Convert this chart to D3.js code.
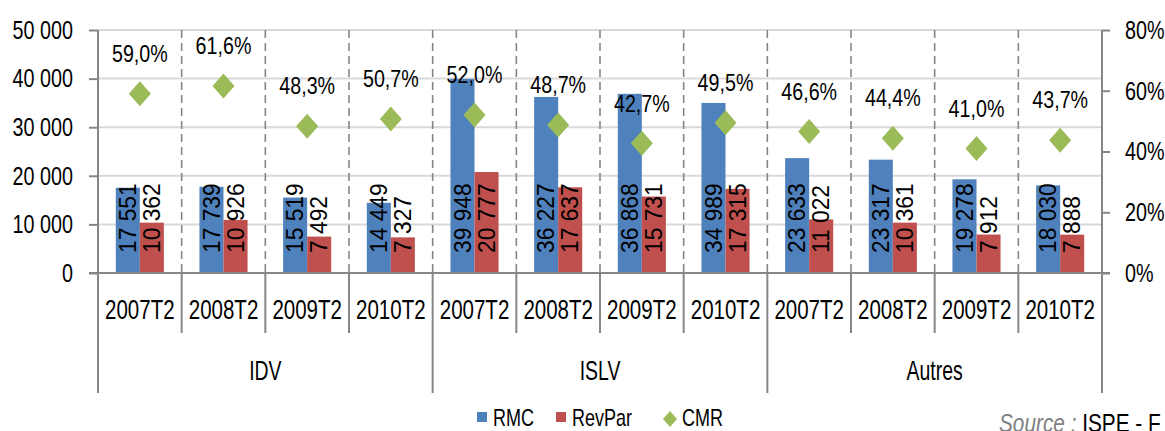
<!DOCTYPE html>
<html>
<head>
<meta charset="utf-8">
<script src="https://cdn.jsdelivr.net/npm/d3@7"></script>
<style>
    body { margin: 0; background: #fff; }
    svg text { font-family: "Liberation Sans", Arial, sans-serif; fill: #000; }
</style>
</head>
<body>
<div id="svg"></div>
<script>
// data
const groups = ["IDV", "ISLV", "Autres"];
const periods = ["2007T2", "2008T2", "2009T2", "2010T2"];
const rmc = [17551, 17739, 15519, 14449, 39948, 36227, 36868, 34989, 23633, 23317, 19278, 18030];
const revpar = [10362, 10926, 7492, 7327, 20777, 17637, 15731, 17315, 11022, 10361, 7912, 7888];
const cmr = [59.0, 61.6, 48.3, 50.7, 52.0, 48.7, 42.7, 49.5, 46.6, 44.4, 41.0, 43.7];
const left_ticks = [0, 10000, 20000, 30000, 40000, 50000];
const right_ticks = [0, 20, 40, 60, 80];
const bar_series = ["RMC", "RevPar"];
const point_series = "CMR";
const source_label = "Source :";
const source_text = " ISPE - F";

const settings = {
    width: 1165,
    height: 431,
    left: 98,
    right: 1102,
    top: 30,
    bottom: 273,
    squeeze: 0.82, // no condensed font installed, so narrow the glyphs by hand
    colors: { RMC: "#4F81BD", RevPar: "#C0504D", CMR: "#9BBB59" },
    axis_color: "#868686",
    grid_color: "#d9d9d9",
};

const fr = d3.formatLocale({ decimal: ",", thousands: " ", grouping: [3], currency: ["", " €"] });
const fmt_num = fr.format(",d");
const fmt_pct = (v) => fr.format(".1f")(v) + "%";

// move x/y into a transform and squeeze the text horizontally
const squeeze = (sel, sx = settings.squeeze) => {
    sel.attr("transform", function () {
        const x0 = +this.getAttribute("x") || 0;
        const y0 = +this.getAttribute("y") || 0;
        const pre = this.getAttribute("transform") || "";
        return `${pre} translate(${x0},${y0}) scale(${sx},1)`;
    })
        .attr("x", 0)
        .attr("y", 0);
};

const rows = rmc.map((d, i) => ({
    i: i,
    group: groups[Math.floor(i / periods.length)],
    period: periods[i % periods.length],
    RMC: d,
    RevPar: revpar[i],
    CMR: cmr[i],
}));

const svg = d3
    .select("#svg")
    .append("svg")
    .attr("width", settings.width)
    .attr("height", settings.height);

const x = d3.scaleBand().domain(d3.range(rows.length)).range([settings.left, settings.right]);
const xs = d3.scaleBand().domain(bar_series).range([0, x.bandwidth()]).paddingOuter(0.74);
const y = d3.scaleLinear().domain([0, 50000]).range([settings.bottom, settings.top]);
const y2 = d3.scaleLinear().domain([0, 80]).range([settings.bottom, settings.top]);
const x_edge = (i) => (i < rows.length ? x(i) : settings.right);

// horizontal grid
svg.append("g")
    .selectAll("line")
    .data(left_ticks.filter((d) => d > 0))
    .join("line")
    .attr("x1", settings.left)
    .attr("x2", settings.right)
    .attr("y1", (d) => y(d))
    .attr("y2", (d) => y(d))
    .attr("stroke", settings.grid_color)
    .attr("stroke-width", 2);

// dashed category separators
svg.append("g")
    .selectAll("line")
    .data(d3.range(1, rows.length))
    .join("line")
    .attr("x1", (d) => x(d))
    .attr("x2", (d) => x(d))
    .attr("y1", settings.top)
    .attr("y2", settings.bottom)
    .attr("stroke", settings.axis_color)
    .attr("stroke-width", 1.6)
    .attr("stroke-dasharray", "8,5");

// bars
const bars = svg.append("g");
bar_series.forEach((s) => {
    bars.append("g")
        .selectAll("rect")
        .data(rows)
        .join("rect")
        .attr("x", (d) => x(d.i) + xs(s))
        .attr("width", xs.bandwidth())
        .attr("y", (d) => y(d[s]))
        .attr("height", (d) => y(0) - y(d[s]))
        .attr("fill", settings.colors[s]);
});

// bar labels (rotated, inside base)
bar_series.forEach((s) => {
    bars.append("g")
        .selectAll("text")
        .data(rows)
        .join("text")
        .attr("transform", (d) => `translate(${x(d.i) + xs(s) + xs.bandwidth() / 2},${y(0) - 20}) rotate(-90)`)
        .attr("text-anchor", "start")
        .attr("dominant-baseline", "central")
        .attr("font-size", 24)
        .text((d) => fmt_num(d[s]))
        .call(squeeze, 0.95);
});

// CMR diamonds
const diamond = {
    draw: (ctx, size) => {
        const h = Math.sqrt(size) / 2;
        const w = h * 0.88;
        ctx.moveTo(0, -h);
        ctx.lineTo(w, 0);
        ctx.lineTo(0, h);
        ctx.lineTo(-w, 0);
        ctx.closePath();
    },
};
const pts = svg.append("g");
pts.selectAll("path")
    .data(rows)
    .join("path")
    .attr("d", d3.symbol(diamond, 625))
    .attr("transform", (d) => `translate(${x(d.i) + x.bandwidth() / 2},${y2(d.CMR)})`)
    .attr("fill", settings.colors.CMR);
pts.selectAll("text")
    .data(rows)
    .join("text")
    .attr("x", (d) => x(d.i) + x.bandwidth() / 2)
    .attr("y", (d) => y2(d.CMR) - 40)
    .attr("text-anchor", "middle")
    .attr("dominant-baseline", "central")
    .attr("font-size", 24)
    .text((d) => fmt_pct(d.CMR))
    .call(squeeze);

// left axis
const left_axis = svg.append("g")
    .attr("transform", `translate(${settings.left},0)`)
    .call(d3.axisLeft(y).tickValues(left_ticks).tickSize(9).tickPadding(16).tickFormat(fmt_num));
// right axis
const right_axis = svg.append("g")
    .attr("transform", `translate(${settings.right},0)`)
    .call(d3.axisRight(y2).tickValues(right_ticks).tickSize(8).tickPadding(15).tickFormat((d) => d + "%"));
[left_axis, right_axis].forEach((a) => {
    a.attr("font-family", null);
    a.select(".domain").remove();
    a.selectAll(".tick line").attr("stroke", settings.axis_color).attr("stroke-width", 2);
    a.selectAll(".tick text")
        .attr("font-size", 25)
        .attr("dy", null)
        .attr("dominant-baseline", "central")
        .call(squeeze, 0.79);
    a.append("line")
        .attr("y1", settings.top)
        .attr("y2", settings.bottom)
        .attr("stroke", settings.axis_color)
        .attr("stroke-width", 2);
});

// category axis
const cat = svg.append("g");
cat.append("line")
    .attr("x1", settings.left - 9)
    .attr("x2", settings.right + 8)
    .attr("y1", settings.bottom)
    .attr("y2", settings.bottom)
    .attr("stroke", settings.axis_color)
    .attr("stroke-width", 2);
cat.selectAll("line.sep")
    .data(d3.range(0, rows.length + 1))
    .join("line")
    .attr("class", "sep")
    .attr("x1", (d) => x_edge(d))
    .attr("x2", (d) => x_edge(d))
    .attr("y1", settings.bottom)
    .attr("y2", (d) => (d % periods.length == 0 ? 393 : 333))
    .attr("stroke", settings.axis_color)
    .attr("stroke-width", 2);
cat.selectAll("text.period")
    .data(rows)
    .join("text")
    .attr("class", "period")
    .attr("x", (d) => x(d.i) + x.bandwidth() / 2)
    .attr("y", 309)
    .attr("text-anchor", "middle")
    .attr("dominant-baseline", "central")
    .attr("font-size", 27)
    .text((d) => d.period)
    .call(squeeze, 0.76);
cat.selectAll("text.group")
    .data(groups)
    .join("text")
    .attr("class", "group")
    .attr("x", (d, i) => (x_edge(i * periods.length) + x_edge((i + 1) * periods.length)) / 2)
    .attr("y", 371)
    .attr("text-anchor", "middle")
    .attr("dominant-baseline", "central")
    .attr("font-size", 27)
    .text((d) => d)
    .call(squeeze, 0.72);

// legend
const legend = svg.append("g");
const legend_items = [
    { name: bar_series[0], x: 477, type: "rect" },
    { name: bar_series[1], x: 556, type: "rect" },
    { name: point_series, x: 663, type: "diamond" },
];
legend_items.forEach((it) => {
    if (it.type == "rect") {
        legend.append("rect")
            .attr("x", it.x)
            .attr("y", 412)
            .attr("width", 10)
            .attr("height", 10)
            .attr("fill", settings.colors[it.name]);
    } else {
        legend.append("path")
            .attr("d", d3.symbol(diamond, 256))
            .attr("transform", `translate(${it.x + 7},419)`)
            .attr("fill", settings.colors[it.name]);
    }
    legend.append("text")
        .attr("x", it.x + (it.type == "rect" ? 16 : 19))
        .attr("y", 426)
        .attr("font-size", 24)
        .text(it.name)
        .call(squeeze, 0.75);
});

// source
const src = svg.append("text").attr("x", 999).attr("y", 432).attr("font-size", 26);
src.append("tspan").attr("font-style", "italic").style("fill", "#808080").text(source_label);
src.append("tspan").text(source_text);
src.call(squeeze, 0.8);
</script>
</body>
</html>
